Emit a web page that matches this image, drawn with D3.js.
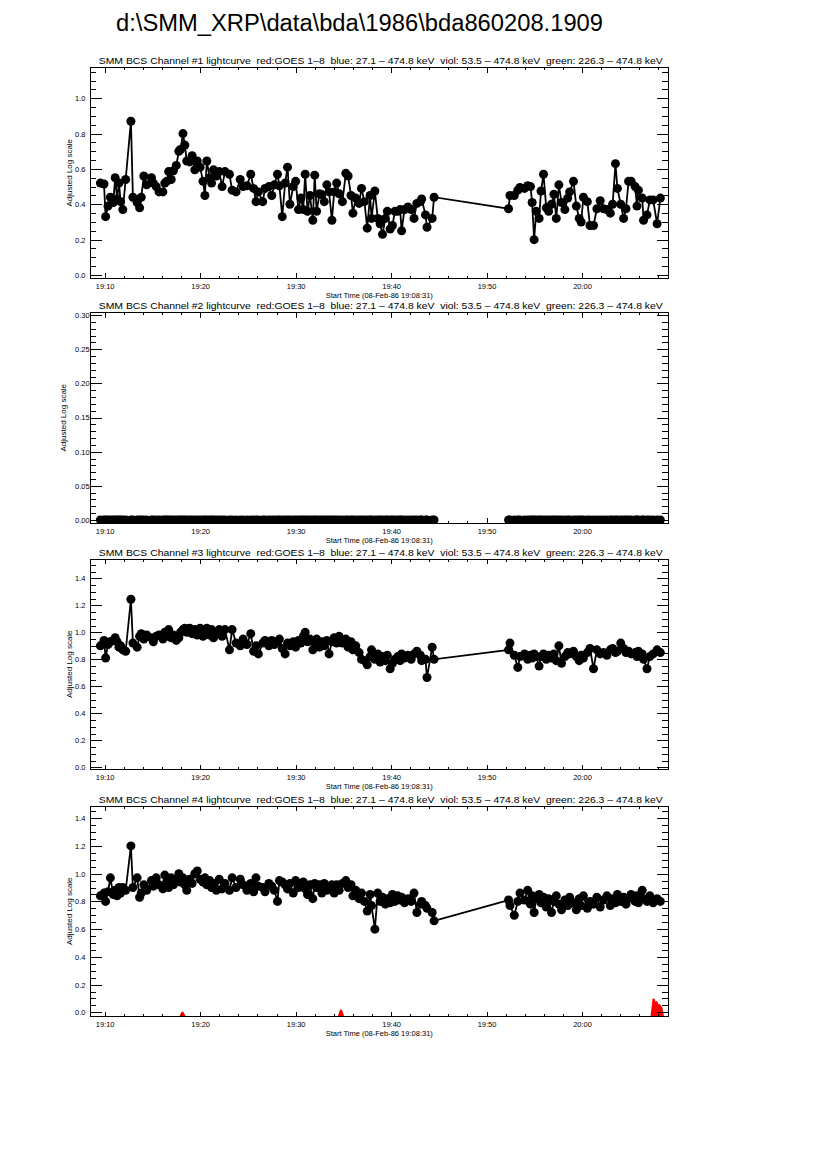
<!DOCTYPE html>
<html lang="en">
<head>
  <meta charset="UTF-8">
  <title>bda860208.1909</title>
  <script src="https://cdn.jsdelivr.net/npm/d3@7"></script>
  <style>
    body { margin: 0; background: #fff; }
    svg { display: block; font-family: "Liberation Sans", Arial, sans-serif; }
    .frame { fill: none; stroke: #000; stroke-width: 1; shape-rendering: crispEdges; }
    .tick line { stroke: #000; shape-rendering: crispEdges; }
    .series { fill: none; stroke: #000; stroke-width: 1.8; }
    .dot { fill: #000; }
    .goes { fill: #f00; stroke: #f00; stroke-width: 2.5; stroke-linejoin: round; }
    .ptitle { white-space: pre; }
  </style>
</head>
<body>
<svg width="826" height="1169"></svg>
<script>
// sample times, minutes after 19:00 UT
var times = [
  9.55, 9.93, 10.1, 10.35, 10.6, 10.9, 11.1, 11.3, 11.5, 11.67,
  11.9, 12.2, 12.75, 12.96, 13.4, 13.66, 13.83, 14.1, 14.4, 14.9,
  15.1, 15.4, 15.7, 16.1, 16.3, 16.5, 16.7, 16.97, 17.2, 17.5,
  17.77, 17.95, 18.2, 18.4, 18.6, 18.9, 19.16, 19.44, 19.7, 20.0,
  20.3, 20.5, 20.7, 21.0, 21.2, 21.4, 21.7, 22.0, 22.3, 22.6,
  23.07, 23.35, 23.76, 24.2, 24.5, 24.9, 25.3, 25.6, 25.85, 26.1,
  26.55, 26.8, 27.2, 27.5, 27.77, 28.1, 28.3, 28.6, 28.9, 29.15,
  29.4, 29.75, 30.0, 30.3, 30.55, 30.8, 31.0, 31.25, 31.5, 31.8,
  32.0, 32.2, 32.5, 32.75, 33.0, 33.27, 33.5, 33.8, 34.04, 34.3,
  34.56, 34.9, 35.26, 35.5, 35.8, 36.0, 36.3, 36.65, 36.9, 37.2,
  37.5, 37.8, 37.95, 38.3, 38.6, 38.85, 39.1, 39.4, 39.6, 39.9,
  40.14, 40.4, 40.7, 40.95, 41.1, 41.4, 41.76, 42.1, 42.4, 42.7,
  43.06, 43.2, 43.6, 43.76, 44.3, 44.5, 52.3, 52.45, 52.9, 53.27,
  53.5, 53.97, 54.3, 54.6, 54.77, 54.98, 55.2, 55.5, 55.7, 55.96,
  56.25, 56.5, 56.8, 57.05, 57.3, 57.57, 57.85, 58.2, 58.5, 58.7,
  59.1, 59.4, 59.7, 59.9, 60.14, 60.55, 60.83, 61.2, 61.55, 61.9,
  62.25, 62.6, 62.96, 63.2, 63.5, 63.7, 64.05, 64.35, 64.6, 64.87,
  65.14, 65.56, 65.75, 65.9, 66.3, 66.44, 66.8, 67.1, 67.44, 67.86,
  68.2
];

var ch1 = [
  0.52, 0.515, 0.33, 0.39, 0.44, 0.41, 0.55, 0.43, 0.52, 0.415,
  0.37, 0.54, 0.87, 0.44, 0.41, 0.38, 0.44, 0.56, 0.51, 0.55,
  0.52, 0.50, 0.47, 0.47, 0.52, 0.53, 0.585, 0.54, 0.59, 0.62,
  0.70, 0.71, 0.80, 0.735, 0.645, 0.64, 0.675, 0.595, 0.645, 0.61,
  0.53, 0.45, 0.645, 0.55, 0.52, 0.595, 0.56, 0.585, 0.50, 0.585,
  0.57, 0.48, 0.47, 0.54, 0.50, 0.505, 0.57, 0.49, 0.415, 0.47,
  0.415, 0.49, 0.50, 0.45, 0.51, 0.57, 0.505, 0.33, 0.52, 0.61,
  0.40, 0.50, 0.53, 0.37, 0.435, 0.37, 0.57, 0.36, 0.45, 0.31,
  0.565, 0.36, 0.46, 0.455, 0.415, 0.51, 0.47, 0.31, 0.47, 0.52,
  0.46, 0.415, 0.575, 0.56, 0.45, 0.35, 0.435, 0.405, 0.49, 0.415,
  0.265, 0.45, 0.32, 0.475, 0.32, 0.29, 0.23, 0.32, 0.36, 0.26,
  0.28, 0.36, 0.36, 0.37, 0.25, 0.37, 0.385, 0.37, 0.32, 0.405,
  0.415, 0.43, 0.34, 0.27, 0.32, 0.44, 0.375, 0.45, 0.45, 0.48,
  0.495, 0.49, 0.505, 0.50, 0.41, 0.20, 0.36, 0.32, 0.475, 0.57,
  0.38, 0.36, 0.40, 0.457, 0.32, 0.51, 0.41, 0.37, 0.435, 0.47,
  0.53, 0.39, 0.32, 0.30, 0.44, 0.415, 0.28, 0.28, 0.375, 0.42,
  0.375, 0.37, 0.35, 0.40, 0.63, 0.49, 0.40, 0.32, 0.375, 0.53,
  0.53, 0.50, 0.39, 0.48, 0.435, 0.31, 0.34, 0.425, 0.425, 0.29,
  0.435
];

var ch2 = [
  0, 0, 0, 0, 0, 0, 0, 0, 0, 0,  0, 0, 0, 0, 0, 0, 0, 0, 0, 0,
  0, 0, 0, 0, 0, 0, 0, 0, 0, 0,  0, 0, 0, 0, 0, 0, 0, 0, 0, 0,
  0, 0, 0, 0, 0, 0, 0, 0, 0, 0,  0, 0, 0, 0, 0, 0, 0, 0, 0, 0,
  0, 0, 0, 0, 0, 0, 0, 0, 0, 0,  0, 0, 0, 0, 0, 0, 0, 0, 0, 0,
  0, 0, 0, 0, 0, 0, 0, 0, 0, 0,  0, 0, 0, 0, 0, 0, 0, 0, 0, 0,
  0, 0, 0, 0, 0, 0, 0, 0, 0, 0,  0, 0, 0, 0, 0, 0, 0, 0, 0, 0,
  0, 0, 0, 0, 0, 0, 0, 0, 0, 0,  0, 0, 0, 0, 0, 0, 0, 0, 0, 0,
  0, 0, 0, 0, 0, 0, 0, 0, 0, 0,  0, 0, 0, 0, 0, 0, 0, 0, 0, 0,
  0, 0, 0, 0, 0, 0, 0, 0, 0, 0,  0, 0, 0, 0, 0, 0, 0, 0, 0, 0,
  0
];

var ch3 = [
  0.90, 0.94, 0.81, 0.91, 0.93, 0.94, 0.96, 0.93, 0.89, 0.90,
  0.87, 0.86, 1.245, 0.92, 0.89, 0.97, 0.99, 0.95, 0.98, 0.96,
  0.93, 0.97, 0.98, 0.95, 1.00, 0.97, 1.02, 0.96, 0.98, 0.94,
  0.96, 1.00, 1.02, 1.03, 1.00, 1.03, 0.99, 1.02, 0.98, 1.03,
  0.97, 1.01, 1.03, 0.98, 1.02, 0.96, 1.00, 1.02, 0.97, 1.02,
  0.87, 1.02, 0.92, 0.90, 0.95, 0.91, 0.99, 0.86, 0.90, 0.84,
  0.92, 0.94, 0.90, 0.94, 0.91, 0.93, 0.95, 0.88, 0.84, 0.92,
  0.90, 0.93, 0.89, 0.94, 0.92, 0.97, 1.00, 0.93, 0.95, 0.87,
  0.93, 0.95, 0.89, 0.93, 0.90, 0.94, 0.84, 0.93, 0.96, 0.92,
  0.97, 0.92, 0.95, 0.89, 0.93, 0.87, 0.90, 0.85, 0.80, 0.79,
  0.76, 0.82, 0.87, 0.80, 0.84, 0.78, 0.82, 0.79, 0.83, 0.73,
  0.77, 0.80, 0.82, 0.79, 0.84, 0.81, 0.83, 0.80, 0.84, 0.86,
  0.83, 0.79, 0.80, 0.665, 0.89, 0.80, 0.87, 0.92, 0.83, 0.74,
  0.82, 0.84, 0.80, 0.83, 0.81, 0.84, 0.82, 0.75, 0.82, 0.84,
  0.80, 0.83, 0.81, 0.84, 0.79, 0.90, 0.77, 0.82, 0.85, 0.84,
  0.86, 0.82, 0.79, 0.83, 0.81, 0.85, 0.88, 0.73, 0.87, 0.84,
  0.85, 0.83, 0.87, 0.88, 0.85, 0.86, 0.92, 0.88, 0.85, 0.86,
  0.84, 0.85, 0.82, 0.86, 0.84, 0.80, 0.73, 0.82, 0.84, 0.87,
  0.85
];

var ch4 = [
  0.84, 0.86, 0.80, 0.87, 0.97, 0.85, 0.88, 0.84, 0.90, 0.86,
  0.90, 0.88, 1.20, 0.90, 0.97, 0.83, 0.86, 0.92, 0.88, 0.95,
  0.91, 0.97, 0.92, 0.89, 0.99, 0.94, 0.90, 0.97, 0.92, 0.96,
  1.00, 0.94, 0.97, 0.92, 0.88, 0.96, 0.93, 1.00, 1.02, 0.96,
  0.94, 0.97, 0.92, 0.95, 0.90, 0.93, 0.88, 0.96, 0.89, 0.93,
  0.88, 0.97, 0.90, 0.96, 0.92, 0.88, 0.93, 0.87, 0.97, 0.91,
  0.90, 0.87, 0.93, 0.91, 0.88, 0.80, 0.95, 0.94, 0.92, 0.89,
  0.93, 0.86, 0.95, 0.90, 0.92, 0.94, 0.89, 0.85, 0.92, 0.82,
  0.93, 0.90, 0.92, 0.86, 0.93, 0.88, 0.90, 0.92, 0.86, 0.92,
  0.88, 0.93, 0.95, 0.90, 0.92, 0.84, 0.88, 0.82, 0.86, 0.80,
  0.73, 0.85, 0.77, 0.60, 0.86, 0.80, 0.83, 0.78, 0.82, 0.79,
  0.85, 0.80, 0.84, 0.81, 0.83, 0.79, 0.82, 0.80, 0.86, 0.72,
  0.78, 0.80, 0.77, 0.75, 0.72, 0.66, 0.81, 0.77, 0.70, 0.80,
  0.86, 0.81, 0.88, 0.78, 0.84, 0.72, 0.82, 0.85, 0.79, 0.83,
  0.76, 0.82, 0.72, 0.80, 0.84, 0.78, 0.74, 0.81, 0.77, 0.83,
  0.79, 0.74, 0.82, 0.77, 0.84, 0.75, 0.80, 0.78, 0.83, 0.76,
  0.81, 0.84, 0.77, 0.82, 0.79, 0.85, 0.80, 0.83, 0.78, 0.82,
  0.85, 0.80, 0.84, 0.79, 0.88, 0.82, 0.80, 0.84, 0.79, 0.82,
  0.80
];

// GOES 1-8 (red) in channel 4 panel
var goesTimes  = [17.95, 18.15, 18.35, 34.55, 34.75, 34.95, 67.3, 67.5, 67.65, 67.8, 67.95, 68.1, 68.3, 68.45];
var goesValues = [-0.03, -0.004, -0.03, -0.03, 0.012, -0.03, -0.03, 0.09, 0.05, 0.07, 0.04, 0.05, 0.03, -0.03];

var xTickMinutes = [10, 20, 30, 40, 50, 60];
var xTickLabels = ["19:10", "19:20", "19:30", "19:40", "19:50", "20:00"];

var yTicks1 = [0, 0.2, 0.4, 0.6, 0.8, 1.0];
var yTicks2 = [0, 0.05, 0.10, 0.15, 0.20, 0.25, 0.30];
var yTicks3 = [0, 0.2, 0.4, 0.6, 0.8, 1.0, 1.2, 1.4];
var yTicks4 = [0, 0.2, 0.4, 0.6, 0.8, 1.0, 1.2, 1.4];

var fileTitle = "d:\\SMM_XRP\\data\\bda\\1986\\bda860208.1909";
var titleTail = " lightcurve  red:GOES 1\u20138  blue: 27.1 \u2013 474.8 keV  viol: 53.5 \u2013 474.8 keV  green: 226.3 \u2013 474.8 keV";
var xTitle = "Start Time (08-Feb-86 19:08:31)";
var yTitle = "Adjusted Log scale";

var svg = d3.select("svg"),
    left = 90.5, right = 668, plotH = 210.5;

var x = d3.scaleLinear().domain([8.517, 69.0]).range([left, right]);

var panels = [
  {n: 1, values: ch1, top: 67.5, y0: -0.017, y1: 1.174, ticks: yTicks1, minor: 0.05, fmt: ".1f", line: true, ylab: 71.5},
  {n: 2, values: ch2, top: 312.5, y0: -0.0044, y1: 0.3037, ticks: yTicks2, minor: 0.01, fmt: ".2f", line: false, ylab: 65.5},
  {n: 3, values: ch3, top: 559, y0: -0.016, y1: 1.543, ticks: yTicks3, minor: 0.05, fmt: ".1f", line: true, ylab: 71.5},
  {n: 4, values: ch4, top: 806, y0: -0.030, y1: 1.488, ticks: yTicks4, minor: 0.05, fmt: ".1f", line: true, goes: true, ylab: 71.5}
];

svg.append("text")
    .attr("x", 116)
    .attr("y", 31)
    .attr("font-size", 23.5)
    .attr("textLength", 487)
    .attr("lengthAdjust", "spacingAndGlyphs")
    .attr("fill", "#000")
    .text(fileTitle);

function styleAxis(a) {
  a.select(".domain").remove();
  a.selectAll("text").attr("font-size", 7.5).attr("font-family", null).attr("fill", "#000");
}

panels.forEach(function(p) {
  var top = p.top, bottom = p.top + plotH;
  var y = d3.scaleLinear().domain([p.y0, p.y1]).range([bottom, top]);
  var g = svg.append("g");

  var pts = times.map(function(t, i) { return [t, p.values[i]]; });

  g.append("clipPath").attr("id", "clip" + p.n)
    .append("rect")
      .attr("x", left).attr("y", top)
      .attr("width", right - left).attr("height", plotH);

  var plot = g.append("g").attr("clip-path", "url(#clip" + p.n + ")");

  if (p.goes) {
    var gp = goesTimes.map(function(t, i) { return [t, goesValues[i]]; });
    // three separate blips
    var groups = [gp.slice(0, 3), gp.slice(3, 6), gp.slice(6)];
    var area = d3.area()
        .x(function(d) { return x(d[0]); })
        .y0(bottom + 2)
        .y1(function(d) { return y(d[1]); });
    groups.forEach(function(grp) {
      plot.append("path").datum(grp).attr("class", "goes").attr("d", area);
    });
  }

  if (p.line) {
    var line = d3.line()
        .x(function(d) { return x(d[0]); })
        .y(function(d) { return y(d[1]); });
    plot.append("path").datum(pts).attr("class", "series").attr("d", line);
  }

  plot.selectAll("circle")
    .data(pts)
    .join("circle")
      .attr("class", "dot")
      .attr("cx", function(d) { return x(d[0]); })
      .attr("cy", function(d) { return y(d[1]); })
      .attr("r", 4.5);

  // y minor ticks
  var step = p.ticks[1] - p.ticks[0];
  var minorY = d3.range(0, p.y1, p.minor).filter(function(v) {
    var r = v / step;
    return Math.abs(r - Math.round(r)) > 1e-6;
  });

  g.append("g")
      .attr("transform", "translate(" + left + ",0)")
      .call(d3.axisLeft(y).tickValues(p.ticks).tickFormat(d3.format(p.fmt))
        .tickSizeInner(-11.5).tickSizeOuter(0))
      .call(styleAxis)
      .call(function(a) {
        a.selectAll("text").attr("text-anchor", "start").attr("x", 75 - left);
      });
  g.append("g")
      .attr("transform", "translate(" + left + ",0)")
      .call(d3.axisLeft(y).tickValues(minorY).tickFormat("").tickSizeInner(-5.8).tickSizeOuter(0))
      .call(styleAxis);
  g.append("g")
      .attr("transform", "translate(" + right + ",0)")
      .call(d3.axisRight(y).tickValues(p.ticks).tickFormat("").tickSizeInner(-11.5).tickSizeOuter(0))
      .call(styleAxis);
  g.append("g")
      .attr("transform", "translate(" + right + ",0)")
      .call(d3.axisRight(y).tickValues(minorY).tickFormat("").tickSizeInner(-5.8).tickSizeOuter(0))
      .call(styleAxis);

  // x ticks
  var minorX = d3.range(10, 69, 2).filter(function(v) { return v % 10 !== 0; });
  g.append("g")
      .attr("transform", "translate(0," + bottom + ")")
      .call(d3.axisBottom(x).tickValues(xTickMinutes)
        .tickFormat(function(d, i) { return xTickLabels[i]; })
        .tickSizeInner(-5).tickSizeOuter(0).tickPadding(5.2))
      .call(styleAxis);
  g.append("g")
      .attr("transform", "translate(0," + bottom + ")")
      .call(d3.axisBottom(x).tickValues(minorX).tickFormat("").tickSizeInner(-2.5).tickSizeOuter(0))
      .call(styleAxis);
  g.append("g")
      .attr("transform", "translate(0," + top + ")")
      .call(d3.axisTop(x).tickValues(xTickMinutes).tickFormat("").tickSizeInner(-5).tickSizeOuter(0))
      .call(styleAxis);
  g.append("g")
      .attr("transform", "translate(0," + top + ")")
      .call(d3.axisTop(x).tickValues(minorX).tickFormat("").tickSizeInner(-2.5).tickSizeOuter(0))
      .call(styleAxis);

  g.append("rect")
      .attr("class", "frame")
      .attr("x", left).attr("y", top)
      .attr("width", right - left).attr("height", plotH);

  // labels
  g.append("text")
      .attr("class", "ptitle")
      .attr("x", (left + right) / 2 + 1.5)
      .attr("y", top - 3.5)
      .attr("text-anchor", "middle")
      .attr("font-size", 9)
      .attr("textLength", 564)
      .attr("lengthAdjust", "spacingAndGlyphs")
      .text("SMM BCS Channel #" + p.n + titleTail);

  g.append("text")
      .attr("x", (left + right) / 2)
      .attr("y", bottom + 19.5)
      .attr("text-anchor", "middle")
      .attr("font-size", 7.5)
      .text(xTitle);

  g.append("text")
      .attr("transform", "translate(" + p.ylab + "," + (top + plotH / 2) + ") rotate(-90)")
      .attr("text-anchor", "middle")
      .attr("font-size", 8)
      .text(yTitle);
});
</script>
</body>
</html>
